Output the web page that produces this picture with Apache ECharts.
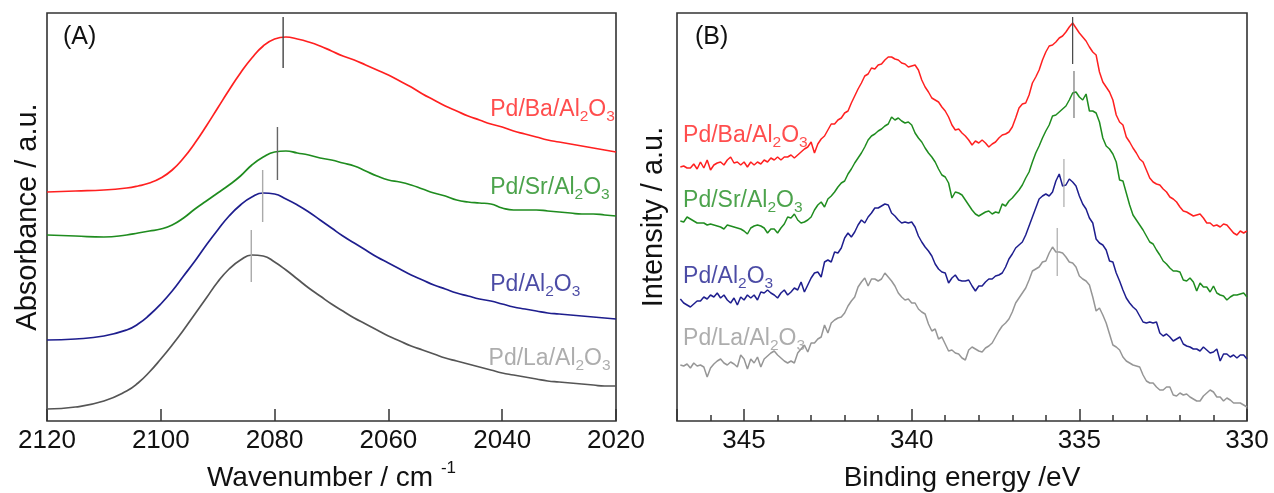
<!DOCTYPE html>
<html><head><meta charset="utf-8">
<script src="https://cdn.jsdelivr.net/npm/echarts@6/dist/echarts.min.js"></script>
<style>html,body{margin:0;padding:0;background:#fff}#c{width:1274px;height:493px}</style>
</head><body><div id="c"></div>
<script>
// ---------- Panel A : IR spectra (arbitrary absorbance units) ----------
const irWavenumber = [2120,2115,2110,2106,2104,2102,2100,2098,2096,2094,2092,2090,2088,2086,2084,2082,2080,2078,2076,2074,2072,2070,2068,2066,2064,2062,2060,2058,2056,2054,2052,2050,2048,2046,2044,2042,2040,2038,2036,2034,2032,2030,2028,2026,2024,2022,2020];
const irBa = [229,230,231,233,235,238,243,251,263,278,295,313,331,348,363,375,382,384,382,379,375,370,365,361,356,351,346,340,334,327,321,315,310,305,301,297,294,290,287,284,281,279,277,275,273,271,269];
const irSr = [186,185,184,186,188,190,192,196,203,212,220,228,236,245,256,264,269,270,268,266,263,261,258,255,250,245,241,239,236,232,228,225,221,219,218,217,213,211,211,211,210,209,208,207,207,206,205];
const irAl = [81,82,85,91,97,106,117,130,145,160,176,191,205,216,224,228,227,222,216,209,201,193,185,178,171,164,158,152,146,141,136,132,128,125,122,120,117,114,112,110,108,107,106,105,104,103,102];
const irLa = [12,14,20,30,38,49,62,76,91,107,123,139,152,161,166,165,159,151,142,133,125,117,110,103,97,91,85,80,75,71,67,63,60,57,54,51,48,46,44,42,40,39,38,37,36,35,35];
const irPeakPos = [2078.5, 2079.5, 2082.1, 2084.1];
const irPeakLow = [353, 241, 199, 139];
const irPeakHigh = [404, 294, 251, 191];
const irTickValues = [2120, 2100, 2080, 2060, 2040, 2020];

// ---------- Panel B : XPS Pd 3d (arbitrary intensity units) ----------
const xpsEnergy = [346.9,346.8,346.7,346.6,346.5,346.4,346.3,346.2,346.1,346.0,
345.9,345.8,345.7,345.6,345.5,345.4,345.3,345.2,345.1,345.0,
344.9,344.8,344.7,344.6,344.5,344.4,344.3,344.2,344.1,344.0,
343.9,343.8,343.7,343.6,343.5,343.4,343.3,343.2,343.1,343.0,
342.9,342.8,342.7,342.6,342.5,342.4,342.3,342.2,342.1,342.0,
341.9,341.8,341.7,341.6,341.5,341.4,341.3,341.2,341.1,341.0,
340.9,340.8,340.7,340.6,340.5,340.4,340.3,340.2,340.1,340.0,
339.9,339.8,339.7,339.6,339.5,339.4,339.3,339.2,339.1,339.0,
338.9,338.8,338.7,338.6,338.5,338.4,338.3,338.2,338.1,338.0,
337.9,337.8,337.7,337.6,337.5,337.4,337.3,337.2,337.1,337.0,
336.9,336.8,336.7,336.6,336.5,336.4,336.3,336.2,336.1,336.0,
335.9,335.8,335.7,335.6,335.5,335.4,335.3,335.2,335.1,335.0,
334.9,334.8,334.7,334.6,334.5,334.4,334.3,334.2,334.1,334.0,
333.9,333.8,333.7,333.6,333.5,333.4,333.3,333.2,333.1,333.0,
332.9,332.8,332.7,332.6,332.5,332.4,332.3,332.2,332.1,332.0,
331.9,331.8,331.7,331.6,331.5,331.4,331.3,331.2,331.1,331.0,
330.9,330.8,330.7,330.6,330.5,330.4,330.3,330.2,330.1,330.0];
const xpsBa = [254,255,253,253,257,252,259,253,261,251,
256,258,259,256,261,264,258,259,256,259,
254,259,256,259,257,261,259,263,261,264,
261,264,264,266,263,266,269,272,274,279,
268,277,282,285,291,297,297,301,303,308,
310,318,325,332,338,345,347,353,352,356,
357,361,364,364,362,361,358,357,354,355,
356,351,341,334,329,323,321,319,314,310,
304,296,291,292,288,285,281,276,280,278,
281,278,274,277,279,283,286,287,289,294,
303,313,317,318,326,338,344,351,361,369,
375,376,379,383,385,389,394,398,393,388,
384,380,374,369,366,349,339,334,329,321,
306,299,296,284,279,273,268,262,259,251,
243,239,237,236,232,229,224,222,219,214,
210,209,207,205,206,207,203,198,198,195,
196,194,197,196,192,188,186,190,188,190];
const xpsSr = [200,199,204,202,200,198,198,198,196,197,
196,195,194,192,196,195,194,193,192,190,
187,193,195,196,195,193,188,192,192,188,
193,197,204,203,207,201,198,199,201,204,
211,216,219,214,222,225,229,234,238,240,
247,252,258,263,268,274,281,285,287,290,
292,295,297,304,301,303,300,298,299,296,
288,283,279,273,268,264,259,252,246,244,
238,223,229,228,226,221,216,211,207,205,
207,209,210,207,209,208,217,215,220,223,
227,231,236,243,249,259,268,275,283,290,
296,305,306,309,312,315,321,328,329,324,
321,327,310,310,308,299,283,275,272,267,
259,241,240,228,216,206,201,196,191,185,
179,177,171,166,160,157,153,150,150,149,
141,140,143,139,130,138,134,134,129,135,
128,126,125,121,124,126,126,127,128,124];
const xpsAl = [122,118,116,114,117,120,120,124,122,126,
124,128,123,126,121,118,123,116,124,121,
126,123,126,121,129,128,131,128,126,123,
128,131,126,129,133,131,139,129,136,143,
148,149,144,159,161,159,169,168,173,183,
188,184,189,196,201,198,204,208,213,213,
215,217,216,208,205,201,198,199,198,199,
194,185,179,174,170,165,157,152,149,148,
138,143,146,141,140,140,141,135,130,135,
135,139,142,142,145,146,148,154,162,167,
173,176,179,186,195,204,213,222,225,227,
225,229,240,247,235,236,242,239,235,225,
217,212,203,198,182,178,176,171,160,159,
148,140,131,123,118,114,111,105,99,98,
99,98,99,88,85,87,84,80,82,84,
77,75,74,72,72,70,74,71,68,69,
72,60,67,67,64,66,63,66,66,62];
const xpsLa = [56,55,57,53,58,55,56,54,44,53,
57,60,62,58,56,59,57,54,66,62,
52,62,58,64,54,62,65,68,70,66,
63,60,58,60,58,68,72,76,69,78,
78,82,84,96,88,98,101,103,104,108,
115,120,124,134,139,143,135,142,142,140,
142,148,144,140,135,128,124,121,122,118,
118,112,109,107,97,90,92,82,84,77,
70,71,68,67,63,61,71,74,72,70,
69,73,75,78,84,90,95,98,102,109,
118,123,128,133,141,150,152,154,159,160,
168,174,169,169,168,164,159,158,154,145,
142,140,136,124,110,113,106,98,87,76,
74,71,64,60,58,56,55,54,46,40,
38,38,34,31,31,34,34,26,25,28,
26,27,24,22,20,20,25,28,31,29,
24,24,20,23,21,18,18,18,16,14];
const xpsPeakPos = [335.2, 335.16, 335.46, 335.66];
const xpsPeakLow = [357, 303, 214, 145];
const xpsPeakHigh = [404, 350, 262, 193];
const xpsTickValues = [345, 340, 335, 330];

// sample names (text before the Al2O3 subscripts)
const sampleNames = ['Pd/Ba/Al', 'Pd/Sr/Al', 'Pd/Al', 'Pd/La/Al'];

// ---------- styling (kept separate from data) ----------
const FONT = 'Liberation Sans, Arial, sans-serif';
const lineColorsA = ['#ff2020', '#1f8c1f', '#1e1e8e', '#555555'];
const lineColorsB = ['#ff2020', '#1f8c1f', '#1e1e8e', '#969696'];
const labelColors = ['#ff2020', '#1f8c1f', '#1e1e8e', '#999999'];
const peakColorsA = ['#444', '#666', '#aaa', '#aaa'];
const peakColorsB = ['#444', '#777', '#aaa', '#aaa'];
const labelAnchorA = [[2042.1, 311], [2042.1, 233], [2042.1, 136], [2042.4, 62]];
const labelAnchorB = [[346.82, 285], [346.82, 220], [346.82, 144], [346.82, 82]];

function pairs(xs, ys) { return xs.map((x, i) => [x, ys[i]]); }

function labelRich(color) {
  return {
    n: { fontSize: 23, fontFamily: FONT, color: color, lineHeight: 29 },
    s: { fontSize: 15.5, fontFamily: FONT, color: color, verticalAlign: 'bottom' }
  };
}

const series = [];
const irSets = [irBa, irSr, irAl, irLa];
const xpsSets = [xpsBa, xpsSr, xpsAl, xpsLa];

irSets.forEach((ys, i) => {
  series.push({
    type: 'line', xAxisIndex: 0, yAxisIndex: 0, data: pairs(irWavenumber, ys),
    smooth: 0.5, showSymbol: false, symbol: 'none', silent: true,
    lineStyle: { color: lineColorsA[i], width: 1.7 }, z: 3
  });
});
xpsSets.forEach((ys, i) => {
  series.push({
    type: 'line', xAxisIndex: 1, yAxisIndex: 1, data: pairs(xpsEnergy, ys),
    showSymbol: false, symbol: 'none', silent: true,
    lineStyle: { color: lineColorsB[i], width: 1.5 }, z: 3
  });
});
irPeakPos.forEach((p, i) => {
  series.push({
    type: 'line', xAxisIndex: 0, yAxisIndex: 0,
    data: [[p, irPeakLow[i]], [p, irPeakHigh[i]]],
    showSymbol: false, symbol: 'none', silent: true,
    lineStyle: { color: peakColorsA[i], width: 1.4 }, z: 4
  });
});
xpsPeakPos.forEach((p, i) => {
  series.push({
    type: 'line', xAxisIndex: 1, yAxisIndex: 1,
    data: [[p, xpsPeakLow[i]], [p, xpsPeakHigh[i]]],
    showSymbol: false, symbol: 'none', silent: true,
    lineStyle: { color: peakColorsB[i], width: 1.2 }, z: 4
  });
});
function labelSeries(xAxisIndex, yAxisIndex, anchors) {
  anchors.forEach((a, i) => {
    series.push({
      type: 'scatter', xAxisIndex, yAxisIndex, silent: true, symbolSize: 0,
      data: [a], z: 6,
      label: {
        show: true, position: 'right', distance: 0,
        formatter: '{n|' + sampleNames[i] + '}{s|2}{n|O}{s|3}',
        rich: labelRich(labelColors[i])
      }
    });
  });
}
labelSeries(0, 0, labelAnchorA);
labelSeries(1, 1, labelAnchorB);

const tickStyle = { color: '#333', width: 1.5 };
const axisLabelStyle = { fontSize: 26, fontFamily: FONT, color: '#111', margin: 7 };

const option = {
  animation: false,
  backgroundColor: '#fff',
  grid: [
    { left: 47, top: 13, width: 569, height: 408, show: true, borderColor: '#333', borderWidth: 1.6, backgroundColor: 'transparent', outerBoundsMode: 'none', containLabel: false },
    { left: 677, top: 13, width: 570, height: 408, show: true, borderColor: '#333', borderWidth: 1.6, backgroundColor: 'transparent', outerBoundsMode: 'none', containLabel: false }
  ],
  xAxis: [
    {
      gridIndex: 0, type: 'value', inverse: true, position: 'bottom',
      min: irTickValues[irTickValues.length - 1], max: irTickValues[0], interval: 20,
      axisLine: { show: false },
      axisTick: { show: true, inside: true, length: 12, lineStyle: tickStyle },
      axisLabel: Object.assign({}, axisLabelStyle, { formatter: v => String(v) }),
      splitLine: { show: false },
      name: '{n|Wavenumber / cm }{sup|-1}', nameLocation: 'middle', nameGap: 39,
      nameTextStyle: {
        rich: {
          n: { fontSize: 28, fontFamily: FONT, color: '#111', lineHeight: 37 },
          sup: { fontSize: 17, fontFamily: FONT, color: '#111', verticalAlign: 'top' }
        }
      }
    },
    {
      gridIndex: 1, type: 'value', inverse: true, position: 'bottom',
      min: xpsTickValues[xpsTickValues.length - 1], max: 347, interval: 5,
      axisLine: { show: false },
      axisTick: { show: true, inside: true, length: 12, lineStyle: tickStyle },
      axisLabel: Object.assign({}, axisLabelStyle, { formatter: v => (xpsTickValues.indexOf(v) >= 0 ? String(v) : '') }),
      splitLine: { show: false },
      name: 'Binding energy /eV', nameLocation: 'middle', nameGap: 39,
      nameTextStyle: { fontSize: 28, fontFamily: FONT, color: '#111', lineHeight: 37 }
    },
    {
      gridIndex: 1, type: 'value', inverse: true, position: 'bottom',
      min: 330, max: 347, interval: 1,
      axisLine: { show: false },
      axisTick: { show: true, inside: true, length: 6, lineStyle: tickStyle },
      axisLabel: { show: false },
      splitLine: { show: false }
    }
  ],
  yAxis: [
    {
      gridIndex: 0, type: 'value', min: 0, max: 408,
      axisLine: { show: false }, axisTick: { show: false }, axisLabel: { show: false }, splitLine: { show: false },
      name: 'Absorbance / a.u.', nameLocation: 'middle', nameRotate: 90, nameGap: 5,
      nameTextStyle: { fontSize: 29, fontFamily: FONT, color: '#111' }
    },
    {
      gridIndex: 1, type: 'value', min: 0, max: 408,
      axisLine: { show: false }, axisTick: { show: false }, axisLabel: { show: false }, splitLine: { show: false },
      name: 'Intensity / a.u.', nameLocation: 'middle', nameRotate: 90, nameGap: 9,
      nameTextStyle: { fontSize: 29, fontFamily: FONT, color: '#111' }
    }
  ],
  graphic: [
    { type: 'text', left: 63, top: 25, style: { text: '(A)', fontSize: 25, fontFamily: FONT, fill: '#111' } },
    { type: 'text', left: 695, top: 25, style: { text: '(B)', fontSize: 25, fontFamily: FONT, fill: '#111' } }
  ],
  series: series
};

const chart = echarts.init(document.getElementById('c'), null, { renderer: 'canvas' });
chart.setOption(option);
</script>
</body></html>
